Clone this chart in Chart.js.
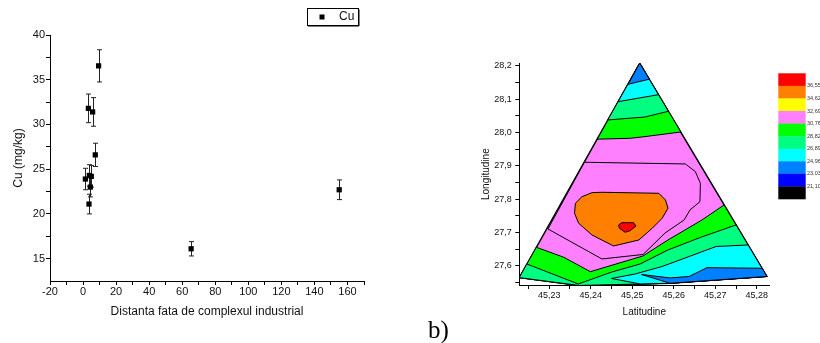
<!DOCTYPE html>
<html>
<head>
<meta charset="utf-8">
<script src="https://cdn.jsdelivr.net/npm/chart.js@4.4.1/dist/chart.umd.min.js"></script>
<style>
  body { margin: 0; background: #fff; }
  #wrap { position: relative; width: 820px; height: 343px; overflow: hidden; }
  #left { position: absolute; left: 0; top: 0; }
  #right { position: absolute; left: 400px; top: 0; }
  #tag { position: absolute; left: 428px; top: 317px; font: 25px/25px "Liberation Serif", "Times New Roman", serif; color: #000; }
</style>
</head>
<body>
<div id="wrap">
  <div id="left"><canvas id="cuChart" width="380" height="343"></canvas></div>
  <div id="right"><canvas id="mapChart" width="420" height="343"></canvas></div>
  <div id="tag">b)</div>
</div>
<script>
// left chart: Cu vs distance
const distance = [9.4, 3.2, 5.8, 7.4, 1.4, 3.8, 5.0, 4.4, 3.6, 65.4, 155.0];
const cuValues = [36.55, 31.8, 31.4, 26.6, 23.9, 24.3, 24.2, 23.0, 21.1, 16.1, 22.7];
const cuErrors = [1.8, 1.6, 1.6, 1.3, 1.2, 1.2, 1.2, 1.1, 1.1, 0.8, 1.1];
const distTicks = [-20, -10, 0, 10, 20, 30, 40, 50, 60, 70, 80, 90, 100, 110, 120, 130, 140, 150, 160, 170];
const distLabels = [-20, 0, 20, 40, 60, 80, 100, 120, 140, 160];
const cuTicks = [15, 17.5, 20, 22.5, 25, 27.5, 30, 32.5, 35, 37.5, 40];
const cuLabels = [15, 20, 25, 30, 35, 40];

// right chart: contour map (lat, lon vertices of each filled zone)
const latTicks = [45.225, 45.23, 45.235, 45.24, 45.245, 45.25, 45.255, 45.26, 45.265, 45.27, 45.275, 45.28];
const latLabels = [45.23, 45.24, 45.25, 45.26, 45.27, 45.28];
const lonTicks = [27.55, 27.6, 27.65, 27.7, 27.75, 27.8, 27.85, 27.9, 27.95, 28.0, 28.05, 28.1, 28.15, 28.2];
const lonLabels = [27.6, 27.7, 27.8, 27.9, 28.0, 28.1, 28.2];
const levels = [36.55, 34.62, 32.69, 30.76, 28.82, 26.89, 24.96, 23.03, 21.10];
const levelColors = ['#ff0000', '#ff8000', '#ffff00', '#ff80ff', '#00ff00', '#00ff80', '#00ffff', '#0080ff', '#0000ff', '#000000'];

const hullZone = [[45.2518, 28.2071], [45.2824, 27.5686], [45.2591, 27.5482], [45.2372, 27.5416], [45.2228, 27.5650]];
const topGreen = [[45.2518, 28.2071], [45.2617, 28.0013], [45.2531, 27.9875], [45.2495, 27.9824], [45.2416, 27.9798]];
const topSpring = [[45.2518, 28.2071], [45.2587, 28.0633], [45.2531, 28.0462], [45.2441, 28.0373]];
const topCyan = [[45.2518, 28.2071], [45.2563, 28.1130], [45.2531, 28.1061], [45.2466, 28.0921]];
const topAzure = [[45.2518, 28.2071], [45.2541, 28.1594], [45.2490, 28.1442]];
const innerRing = [[45.2385, 27.9106], [45.2628, 27.9055], [45.2652, 27.8824], [45.2664, 27.8477], [45.2663, 27.7926],
  [45.2639, 27.7677], [45.2625, 27.7378], [45.2579, 27.6988], [45.2526, 27.6344], [45.2427, 27.6210], [45.2297, 27.7108]];
const lowGreen = [[45.2269, 27.6560], [45.2335, 27.6261], [45.2399, 27.5829], [45.2526, 27.6300], [45.2586, 27.6779],
  [45.2627, 27.7078], [45.2668, 27.7378], [45.2721, 27.7827], [45.2824, 27.5686], [45.2591, 27.5482], [45.2372, 27.5416], [45.2228, 27.5650]];
const lowSpring = [[45.2246, 27.6060], [45.2370, 27.5461], [45.2451, 27.5820], [45.2519, 27.6060], [45.2586, 27.6479],
  [45.2667, 27.6869], [45.2750, 27.7228], [45.2824, 27.5686], [45.2591, 27.5482], [45.2372, 27.5416], [45.2228, 27.5650]];
const lowCyan = [[45.2450, 27.5626], [45.2507, 27.5760], [45.2572, 27.5985], [45.2634, 27.6270], [45.2702, 27.6584],
  [45.2779, 27.6629], [45.2824, 27.5686], [45.2591, 27.5482], [45.2519, 27.5461]];
const lowAzure = [[45.2522, 27.5745], [45.2591, 27.5641], [45.2637, 27.5686], [45.2680, 27.5949], [45.2813, 27.5931],
  [45.2824, 27.5686], [45.2591, 27.5482]];
const orangeZone = [[45.2363, 27.7878], [45.2379, 27.8075], [45.2403, 27.8195], [45.2427, 27.8207], [45.2564, 27.8177],
  [45.2580, 27.7977], [45.2586, 27.7728], [45.2572, 27.7429], [45.2548, 27.7129], [45.2516, 27.6779], [45.2455, 27.6599],
  [45.2403, 27.6928], [45.2371, 27.7279], [45.2361, 27.7578]];
const redZone = [[45.2467, 27.7228], [45.2475, 27.7297], [45.2503, 27.7297], [45.2509, 27.7198], [45.2495, 27.7057],
  [45.2483, 27.7009], [45.2469, 27.7129]];

const FONT = '"Liberation Sans", Arial, sans-serif';
const comma = (v, d) => v.toFixed(d).replace('.', ',');

// error bars + boxed legend for the left chart
const errorBars = {
  id: 'errorBars',
  beforeDatasetsDraw(chart) {
    const ctx = chart.ctx, xs = chart.scales.x, ys = chart.scales.y;
    ctx.save();
    ctx.strokeStyle = '#222';
    ctx.lineWidth = 1;
    distance.forEach((d, i) => {
      const x = Math.round(xs.getPixelForValue(d)) + 0.5;
      const y1 = ys.getPixelForValue(cuValues[i] + cuErrors[i]);
      const y2 = ys.getPixelForValue(cuValues[i] - cuErrors[i]);
      ctx.beginPath();
      ctx.moveTo(x, y1); ctx.lineTo(x, y2);
      ctx.moveTo(x - 2.5, y1); ctx.lineTo(x + 2.5, y1);
      ctx.moveTo(x - 2.5, y2); ctx.lineTo(x + 2.5, y2);
      ctx.stroke();
    });
    ctx.restore();
  },
  afterDraw(chart) {
    const ctx = chart.ctx;
    ctx.save();
    ctx.fillStyle = '#fff';
    ctx.fillRect(307, 8, 51, 17);
    ctx.strokeStyle = '#000';
    ctx.lineWidth = 1;
    ctx.strokeRect(307.5, 8.5, 51, 17);
    ctx.beginPath();
    ctx.moveTo(359, 9.5); ctx.lineTo(359, 26); ctx.lineTo(308, 26);
    ctx.stroke();
    ctx.fillStyle = '#000';
    ctx.fillRect(319.5, 14.5, 5, 5);
    ctx.font = '12px ' + FONT;
    ctx.textBaseline = 'middle';
    ctx.fillStyle = '#111';
    ctx.fillText(chart.data.datasets[0].label, 339, 17);
    ctx.restore();
  }
};

new Chart(document.getElementById('cuChart'), {
  type: 'scatter',
  data: {
    datasets: [{
      label: 'Cu',
      data: distance.map((x, i) => ({ x: x, y: cuValues[i] })),
      pointStyle: 'rect',
      pointRadius: 3.7,
      backgroundColor: '#000',
      borderColor: '#000',
      borderWidth: 0
    }]
  },
  options: {
    responsive: false,
    animation: false,
    events: [],
    layout: { padding: { left: 11.8, top: 35, right: 16, bottom: 23.8 } },
    plugins: { legend: { display: false }, tooltip: { enabled: false } },
    scales: {
      x: {
        type: 'linear', min: -20, max: 170,
        afterBuildTicks: s => { s.ticks = distTicks.map(v => ({ value: v })); },
        afterFit: s => { s.height = 38.2; },
        grid: { drawOnChartArea: false, color: '#000', tickLength: 4 },
        border: { color: '#000' },
        ticks: { autoSkip: false, maxRotation: 0, padding: 0, color: '#111', font: { family: FONT, size: 11 },
          callback: v => distLabels.includes(v) ? String(v) : '' },
        title: { display: true, text: 'Distanta fata de complexul industrial', color: '#111', padding: 0,
          font: { family: FONT, size: 12 } }
      },
      y: {
        type: 'linear', min: 12.5, max: 40,
        afterBuildTicks: s => { s.ticks = cuTicks.map(v => ({ value: v })); },
        afterFit: s => { s.width = 38.2; },
        grid: { drawOnChartArea: false, color: '#000', tickLength: 4 },
        border: { color: '#000' },
        ticks: { autoSkip: false, padding: 1, color: '#111', font: { family: FONT, size: 11 },
          callback: v => cuLabels.includes(v) ? String(v) : '' },
        title: { display: true, text: 'Cu (mg/kg)', color: '#111', padding: 0, font: { family: FONT, size: 12 } }
      }
    }
  },
  plugins: [errorBars]
});

// colour scale legend of the contour map
const colorBar = {
  id: 'colorBar',
  afterDraw(chart) {
    const ctx = chart.ctx, a = chart.chartArea;
    const x = a.right + 9, w = 27.4, top = 73.3, h = 12.57;
    ctx.save();
    levelColors.forEach((c, i) => {
      ctx.fillStyle = c;
      ctx.fillRect(x, top + i * h, w, h + 0.3);
    });
    ctx.font = '5.5px ' + FONT;
    ctx.textBaseline = 'middle';
    ctx.fillStyle = '#333';
    levels.forEach((v, i) => ctx.fillText(comma(v, 2), x + w + 1.3, top + (i + 1) * h));
    ctx.restore();
  }
};

const layers = [
  { pts: hullZone, color: '#ff80ff', w: 1.5 },
  { pts: topGreen, color: '#00ff00' },
  { pts: topSpring, color: '#00ff80' },
  { pts: topCyan, color: '#00ffff' },
  { pts: topAzure, color: '#0080ff' },
  { pts: innerRing, color: '#ff80ff' },
  { pts: lowGreen, color: '#00ff00' },
  { pts: lowSpring, color: '#00ff80' },
  { pts: lowCyan, color: '#00ffff' },
  { pts: lowAzure, color: '#0080ff' },
  { pts: orangeZone, color: '#ff8000' },
  { pts: redZone, color: '#ff0000' }
];

function ring(points) {
  const d = points.map(p => ({ x: p[0], y: p[1] }));
  d.push(d[0]);
  return d;
}

new Chart(document.getElementById('mapChart'), {
  type: 'scatter',
  data: {
    datasets: layers.map((l, i) => ({
      data: ring(l.pts),
      showLine: true,
      fill: 'shape',
      backgroundColor: l.color,
      borderColor: '#000',
      borderWidth: l.w || 1,
      pointRadius: 0,
      tension: 0,
      order: layers.length - i
    }))
  },
  options: {
    responsive: false,
    animation: false,
    events: [],
    layout: { padding: { left: 80, top: 63.3, right: 50.7, bottom: 24.7 } },
    plugins: { legend: { display: false }, tooltip: { enabled: false } },
    scales: {
      x: {
        type: 'linear', min: 45.2228, max: 45.2830,
        afterBuildTicks: s => { s.ticks = latTicks.map(v => ({ value: v })); },
        afterFit: s => { s.height = 33.3; },
        grid: { drawOnChartArea: false, color: '#000', tickLength: 4 },
        border: { color: '#000' },
        ticks: { autoSkip: false, maxRotation: 0, padding: 1.6, color: '#111', font: { family: FONT, size: 9 },
          callback: v => latLabels.includes(v) ? comma(v, 2) : '' },
        title: { display: true, text: 'Latitudine', color: '#111', padding: 0, font: { family: FONT, size: 10 } }
      },
      y: {
        type: 'linear', min: 27.543, max: 28.207,
        afterBuildTicks: s => { s.ticks = lonTicks.map(v => ({ value: v })); },
        afterFit: s => { s.width = 39.3; },
        grid: { drawOnChartArea: false, color: '#000', tickLength: 4 },
        border: { color: '#000' },
        ticks: { autoSkip: false, padding: 3.6, color: '#111', font: { family: FONT, size: 9 },
          callback: v => lonLabels.includes(v) ? comma(v, 1) : '' },
        title: { display: true, text: 'Longitudine', color: '#111', padding: 0, font: { family: FONT, size: 10 } }
      }
    }
  },
  plugins: [colorBar]
});
</script>
</body>
</html>
